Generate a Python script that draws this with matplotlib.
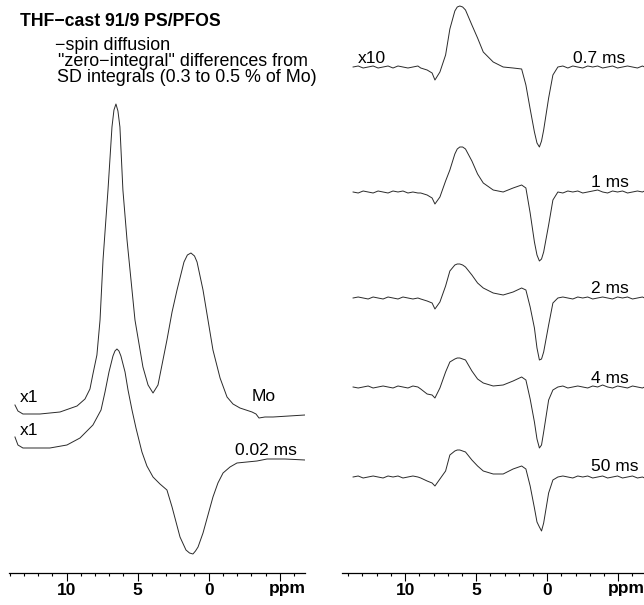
import matplotlib.pyplot as plt
from matplotlib.ticker import MultipleLocator

plt.rcParams['font.family'] = ['Liberation Sans', 'DejaVu Sans']

# left panel: full spectrum (Mo) and 0.02 ms spectrum, intensities in arbitrary units
mo_ppm = [13.64, 13.43, 13.08, 11.88, 10.47, 9.27, 8.71, 8.36, 8.15, 7.87, 7.65, 7.44, 7.09,
          6.81, 6.67, 6.53, 6.39, 6.25, 6.04, 5.75, 5.54, 5.19, 4.63, 4.27, 3.92, 3.57, 3.29,
          2.94, 2.58, 2.23, 1.74, 1.50, 1.25, 1.00, 0.82, 0.40, 0.05, -0.30, -0.80, -1.29,
          -1.71, -2.20, -3.05, -3.33, -3.54, -3.96, -4.53, -6.78]
mo_int = [9, 3, 0, 0, 2, 8, 15, 25, 40, 59, 94, 154, 224,
          287, 304, 310, 303, 287, 224, 174, 144, 94, 47, 29, 21, 29, 49,
          74, 102, 124, 152, 159, 161, 158, 152, 124, 94, 64, 36, 17,
          10, 6, 2, 0, -4, -3, -3, -1]

sd002_ppm = [13.64, 13.43, 13.08, 11.18, 9.98, 9.06, 8.15, 7.58, 7.30, 7.02, 6.74, 6.60, 6.46,
             6.32, 6.18, 5.89, 5.68, 5.40, 5.12, 4.70, 4.35, 3.92, 3.43, 2.94, 2.58, 2.30, 2.02,
             1.60, 1.35, 1.11, 0.93, 0.75, 0.40, 0.05, -0.30, -0.65, -1.01, -1.50, -1.99,
             -3.40, -4.11, -5.37, -6.78]
sd002_int = [11, 3, 0, 0, 3, 10, 23, 38, 56, 76, 92, 97, 99,
             97, 92, 76, 58, 38, 20, -4, -18, -29, -36, -42, -59, -74, -89,
             -102, -105, -106, -103, -99, -85, -67, -49, -35, -25, -19, -15,
             -13, -11, -11, -12]

# right panel: x10 difference spectra, shared ppm grid
diff_ppm = [13.66, 13.3, 12.95, 12.6, 12.25, 11.9, 11.55, 11.2, 10.85, 10.5, 10.15, 9.8, 9.45, 9.1,
            8.9, 8.45, 8.1, 7.9, 7.55, 7.15, 6.85, 6.5, 6.33, 6.15, 5.95, 5.75, 5.3, 4.9, 4.5,
            3.8, 3.1, 2.4, 1.8, 1.5, 1.2, 0.9, 0.72, 0.55, 0.4, 0.25, -0.1, -0.4, -0.75,
            -1.1, -1.45, -1.8, -2.15, -2.5, -2.85, -3.2, -3.55, -3.9, -4.25, -4.6, -4.95, -5.3,
            -5.65, -6.0, -6.35, -6.7, -6.85]
diff_0p7 = [0, 1, -1, 0, 1, -1, 0, 1, -1, 1, 0, -1, 0, 1,
            -1, -3, -6, -13, -5, 12, 38, 56, 60, 61, 60, 57, 42, 29, 15,
            5, 0, -1, -2, -18, -42, -65, -76, -80, -74, -63, -31, -8, 0,
            1, -1, 1, 0, -1, 1, 0, 1, -1, 0, 1, -1, 0,
            1, 0, -1, 1, 0]
diff_1 = [0, -1, 1, 0, -1, 1, 0, -1, 1, 0, 1, -1, 0, -1,
          -1, -3, -6, -12, -5, 11, 22, 38, 43, 45, 45, 43, 31, 18, 9,
          2, 0, 4, 7, 4, -21, -50, -63, -69, -67, -60, -33, -8, 0,
          -1, 1, 0, 1, -1, 0, 1, 2, 0, -1, 1, 0, 1,
          -1, 0, 1, 0, 1]
diff_2 = [0, 1, 0, -1, 1, 0, -1, 1, 0, -1, 1, 0, -1, 0,
          -1, -3, -5, -11, -4, 12, 27, 33, 34, 34, 33, 31, 23, 15, 10,
          5, 3, 6, 10, 8, -9, -30, -50, -62, -61, -54, -27, -5, 0,
          1, 0, -1, 1, 0, 1, -1, 0, 1, 0, -1, 1, 0,
          1, -1, 0, 1, 0]
diff_4 = [0, -1, 0, 1, -1, 0, 1, 0, -1, 1, 0, -1, 1, 0,
          -2, -7, -8, -11, -1, 15, 25, 28, 29, 29, 28, 27, 16, 8, 4,
          1, 2, 6, 10, 7, -12, -35, -52, -61, -58, -45, -13, -3, 0,
          1, -1, 0, 1, 0, -1, 1, 0, 2, 0, -1, 1, 0,
          -1, 1, 0, -1, 0]
diff_50 = [0, 1, -1, 0, 1, 0, -1, 1, 0, 1, -1, 0, 1, 0,
           -1, -4, -6, -9, -2, 6, 22, 26, 27, 27, 26, 25, 17, 11, 6,
           3, 3, 8, 11, 8, -9, -31, -45, -50, -54, -46, -16, -3, 0,
           1, 0, -1, 1, 0, 1, -1, 0, 1, -1, 0, 1, -1,
           0, 1, -1, 0, -1]

diff_traces = [diff_0p7, diff_1, diff_2, diff_4, diff_50]
diff_labels = ['0.7 ms', '1 ms', '2 ms', '4 ms', '50 ms']

fig = plt.figure(figsize=(6.44, 6.05), dpi=100)
ax1 = fig.add_axes([0.0144, 0.0529, 0.4592, 0.9471])
ax2 = fig.add_axes([0.5306, 0.0529, 0.4694, 0.9471])

line_kw = dict(color='#2a2a2a', lw=0.7)
txt_kw = dict(fontsize=12.5, va='center', color='black')

# left panel
ax1.plot(mo_ppm, [v + 159 for v in mo_int], **line_kw)
ax1.plot(sd002_ppm, [v + 125 for v in sd002_int], **line_kw)
ax1.set_xlim(14.04, -6.78)
ax1.text(13.3, 175, 'x1', **txt_kw)
ax1.text(13.3, 142, 'x1', **txt_kw)
ax1.text(-3.05, 176, 'Mo', **txt_kw)
ax1.text(-1.85, 122, '0.02 ms', **txt_kw)

# right panel
offsets = [506, 381, 275, 186, 96]
for vals, off in zip(diff_traces, offsets):
    ax2.plot(diff_ppm, [v + off for v in vals], **line_kw)
ax2.set_xlim(14.46, -6.81)
ax2.text(13.31, 514, 'x10', **txt_kw)
label_y = [514, 390, 284, 194, 106]
label_x = [-1.83, -3.10, -3.10, -3.10, -3.10]
for lab, lx, ly in zip(diff_labels, label_x, label_y):
    ax2.text(lx, ly, lab, **txt_kw)

for ax in (ax1, ax2):
    ax.set_ylim(0, 573)
    for s in ('top', 'right', 'left'):
        ax.spines[s].set_visible(False)
    ax.spines['bottom'].set_linewidth(0.9)
    ax.set_yticks([])
    ax.set_xticks([10, 5, 0, -5])
    ax.set_xticklabels(['10', '5', '0', ''], fontweight='bold', fontsize=12.5)
    ax.xaxis.set_minor_locator(MultipleLocator(1))
    ax.tick_params(axis='x', which='major', direction='out', length=6, width=0.8, pad=1.5)
    ax.tick_params(axis='x', which='minor', direction='out', length=2.5, width=0.8)
    ax.text(-5.55, -16, 'ppm', fontsize=12.5, fontweight='bold', ha='center', va='center',
            clip_on=False)
    ax.patch.set_alpha(0)

fig.text(20 / 644, 1 - 21 / 605, 'THF\u2212cast 91/9 PS/PFOS', fontsize=12.7,
         fontweight='bold', va='center')
fig.text(55 / 644, 1 - 45 / 605, '\u2212spin diffusion', fontsize=12.9, va='center')
fig.text(58 / 644, 1 - 61 / 605, '"zero\u2212integral" differences from', fontsize=12.9,
         va='center')
fig.text(57 / 644, 1 - 77 / 605, 'SD integrals (0.3 to 0.5 % of Mo)', fontsize=12.9,
         va='center')

plt.savefig('out.png', dpi=100)
plt.close()
